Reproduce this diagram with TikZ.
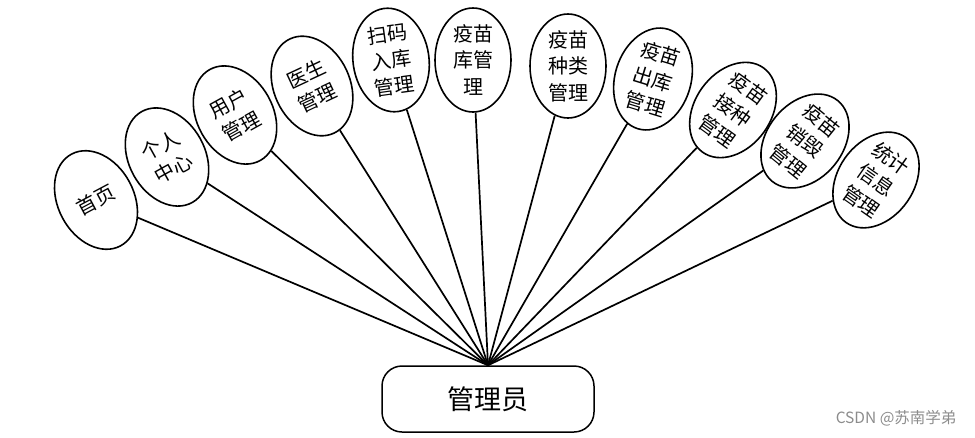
\documentclass[tikz,border=0pt]{standalone}
\usepackage{fontspec}
\newfontfamily\cjk{Noto Sans CJK SC}
\usetikzlibrary{shapes.geometric}
\begin{document}
\begin{tikzpicture}[x=1pt,y=-1pt,
  bubble/.style={ellipse, draw, line width=1.6pt, minimum width=76pt, minimum height=104pt,
    inner sep=0pt, align=center, font=\cjk\fontsize{20}{26.5}\selectfont},
  link/.style={line width=1.7pt},
  mainbox/.style={draw, rounded corners=20pt, line width=1.5pt, minimum width=212pt,
    minimum height=66pt, font=\cjk\fontsize{27}{30}\selectfont},
  wmark/.style={text=black!45, font=\cjk\fontsize{15.5}{17}\selectfont}]
\useasboundingbox (0,0) rectangle (975,437);
\node[mainbox] (admin) at (488,399) {管理员};
\node[bubble, rotate=28] (n1) at (96,200) {首页};
\node[bubble, rotate=29] (n2) at (167,157) {个人\\中心};
\node[bubble, rotate=29] (n3) at (235,115) {用户\\管理};
\node[bubble, rotate=25] (n4) at (312,86) {医生\\管理};
\node[bubble, rotate=8] (n5) at (391,60) {扫码\\入库\\管理};
\node[bubble] (n6) at (473,60) {疫苗\\库管\\理};
\node[bubble] (n7) at (568,66) {疫苗\\种类\\管理};
\node[bubble, rotate=-17] (n8) at (653,79) {疫苗\\出库\\管理};
\node[bubble, rotate=-36] (n9) at (733,110) {疫苗\\接种\\管理};
\node[bubble, rotate=-39] (n10) at (805,141) {疫苗\\销毁\\管理};
\node[bubble, rotate=-35] (n11) at (876,180) {统计\\信息\\管理};
\foreach \i in {1,...,11} \draw[link] (n\i) -- (admin.north);
\node[wmark, anchor=east] (wm) at (960,418) {CSDN @苏南学弟};
\end{tikzpicture}
\end{document}
